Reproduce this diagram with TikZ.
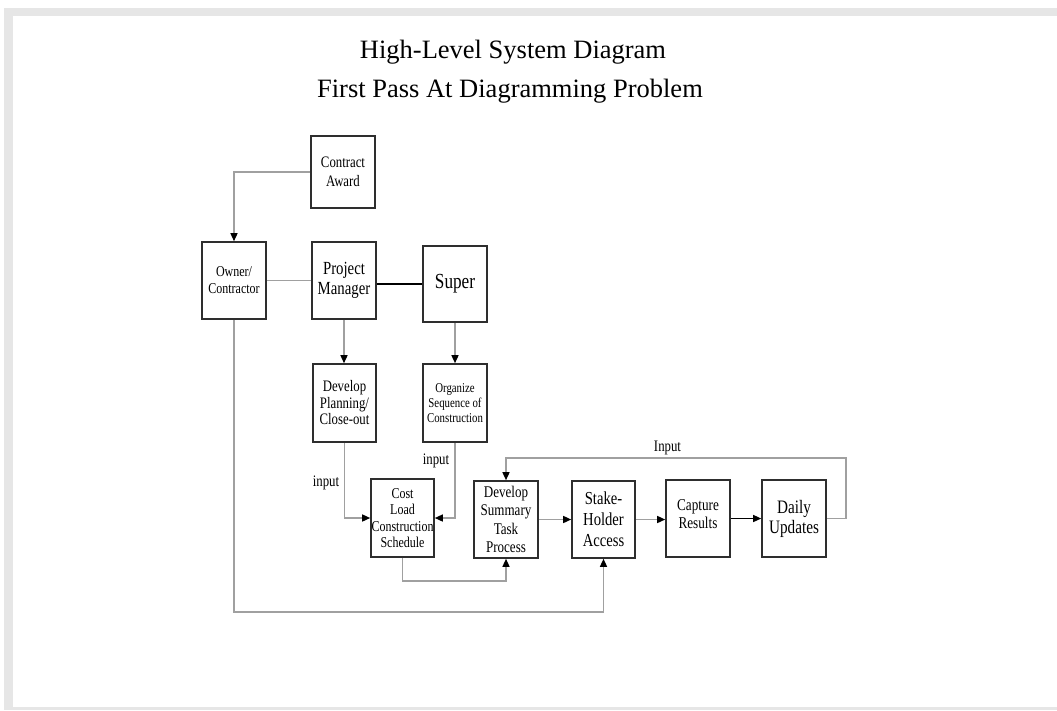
\documentclass[tikz,border=0pt]{standalone}
\usepackage{fontspec}
\setmainfont{Liberation Serif}
\newfontfamily\narrowserif[FakeStretch=0.8]{Liberation Serif}
\usetikzlibrary{arrows.meta}
\definecolor{framegray}{HTML}{E6E6E6}
\definecolor{linegray}{HTML}{A0A0A0}
\definecolor{boxedge}{HTML}{2E2E2E}
\tikzset{
  box/.style={draw=boxedge, line width=1.6pt, minimum width=64pt,
    minimum height=77pt, inner sep=0pt, align=center},
  fs/.style n args={2}{font=\narrowserif\fontsize{#1}{#2}\selectfont},
  link/.style={draw=linegray, line width=1.4pt},
  flow/.style={link, -{Triangle[length=8pt,width=7pt,color=black]}},
  darkflow/.style={flow, draw=black, line width=1.2pt},
  darklink/.style={draw=black, line width=1.1pt},
  lbl/.style={fs={16}{18}, inner sep=0pt, anchor=base},
  heading/.style={font=\fontsize{26.5}{30}\selectfont, inner sep=0pt, anchor=base}
}
\begin{document}
\begin{tikzpicture}[x=1pt, y=-1pt]
  % page and frame
  \fill[white] (0,0) rectangle (1057,710);
  \fill[framegray] (4,8) rectangle (1057,710);
  \fill[white] (13,16) rectangle (1057,707);
  \useasboundingbox (0,0) rectangle (1057,710);

  % title
  \node[heading] (title1) at (513,58) {High-Level System Diagram};
  \node[heading] (title2) at (510,97) {First Pass At Diagramming Problem};

  % boxes
  \node[box, fs={16}{18.5}, minimum height=72pt] (award) at (343,172) {Contract\\Award};
  \node[box, fs={15}{17}] (owner) at (234,280.5) {Owner/\\Contractor};
  \node[box, fs={18.5}{19.5}] (pm) at (344,280.5) {Project\\Manager};
  \node[box, fs={21.5}{23}, minimum height=76pt] (super) at (455,284) {Super};
  \node[box, fs={16}{16.5}, minimum width=63pt, minimum height=78pt] (plan) at (344.5,403) {Develop\\Planning/\\Close-out};
  \node[box, fs={13.5}{15}, minimum height=78pt] (seq) at (455,403) {Organize\\Sequence of\\Construction};
  \node[box, fs={15}{16.5}, minimum width=63pt, minimum height=78pt] (cost) at (402.5,518) {Cost\\Load\\Construction\\Schedule};
  \node[box, fs={16.3}{18.2}] (summary) at (506,519.5) {Develop\\Summary\\Task\\Process};
  \node[box, fs={18.3}{21}, minimum width=63pt] (stake) at (603.5,519.5) {Stake-\\Holder\\Access};
  \node[box, fs={16.5}{18.3}] (capture) at (698,518.5) {Capture\\Results\\[-10pt]};
  \node[box, fs={19}{20}] (daily) at (794,518.5) {Daily\\Updates};

  % corner points of routed connectors
  \coordinate (costdrop) at (403,581);
  \coordinate (loopcorner) at (846,458);
  \coordinate (ownerdrop) at (234,612);

  % connectors
  \draw[flow] (award.west) -| (owner.north);
  \draw[link] (owner.east) -- (pm.west);
  \draw[darklink] (pm.east |- super.west) -- (super.west);
  \draw[flow] (pm.south) -- (pm.south |- plan.north);
  \draw[flow] (super.south) -- (seq.north);
  \draw[flow] (plan.south) |- (cost.west);
  \draw[flow] (seq.south) |- (cost.east);
  \draw[flow] (cost.south) -- (cost.south |- costdrop) -| (summary.south);
  \draw[flow] (summary.east) -- (stake.west);
  \draw[flow] (stake.east) -- (stake.east -| capture.west);
  \draw[darkflow] (capture.east) -- (daily.west);
  \draw[flow] (daily.east) -| (loopcorner) -| (summary.north);
  \draw[flow] (owner.south) -- (owner.south |- ownerdrop) -| (stake.south);

  % connector labels
  \node[lbl] (inputplan) at (326,486) {input};
  \node[lbl] (inputseq) at (436,464) {input};
  \node[lbl] (inputloop) at (667.5,451) {Input};
\end{tikzpicture}
\end{document}
